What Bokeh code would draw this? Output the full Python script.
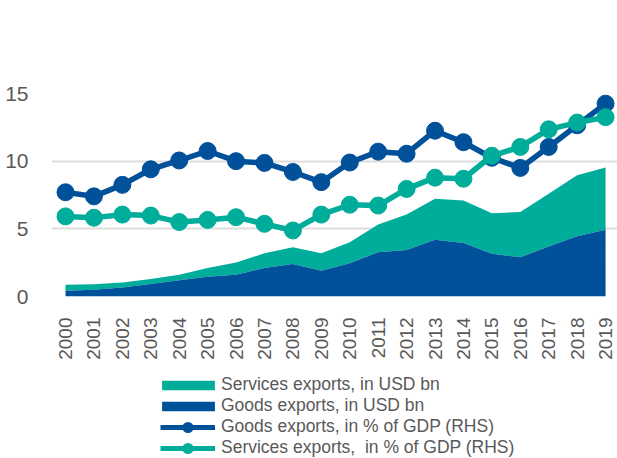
import math
from bokeh.plotting import figure
from bokeh.layouts import column
from bokeh.models import ColumnDataSource, FixedTicker, Legend, LegendItem, Range1d
from bokeh.embed import file_html
from bokeh.resources import INLINE

years = list(range(2000, 2020))
goods_usd = [0.42, 0.5, 0.67, 0.92, 1.2, 1.46, 1.61, 2.1, 2.4, 1.9,
             2.45, 3.27, 3.44, 4.19, 3.96, 3.15, 2.9, 3.69, 4.45, 4.93]
total_usd = [0.87, 0.9, 1.04, 1.29, 1.61, 2.1, 2.52, 3.19, 3.64, 3.19,
             4.01, 5.32, 6.06, 7.23, 7.1, 6.16, 6.24, 7.6, 8.96, 9.53]
services_usd = [round(t - g, 2) for t, g in zip(total_usd, goods_usd)]
goods_pct = [7.7, 7.4, 8.25, 9.4, 10.05, 10.75, 10.0, 9.87, 9.2, 8.45,
             9.9, 10.7, 10.55, 12.25, 11.4, 10.25, 9.5, 11.05, 12.65, 14.25]
services_pct = [5.92, 5.82, 6.05, 5.98, 5.5, 5.66, 5.86, 5.37, 4.88, 6.05,
                6.78, 6.72, 7.95, 8.78, 8.7, 10.4, 11.05, 12.35, 12.85, 13.25]
y_ticks = [0, 5, 10, 15]
legend_labels = ["Services exports, in USD bn", "Goods exports, in USD bn",
                 "Goods exports, in % of GDP (RHS)",
                 "Services exports,  in % of GDP (RHS)"]

DARK = "#00509a"
TEAL = "#00ad9a"
GRAY = "#595959"

src = ColumnDataSource(dict(year=years, goods=goods_usd, total=total_usd,
                            zero=[0] * len(years), gp=goods_pct, sp=services_pct))

p = figure(width=617, height=366, output_backend="svg", toolbar_location=None,
           x_range=Range1d(1999.507, 2019.42), y_range=Range1d(0, 15),
           min_border_left=51, min_border_right=0, min_border_top=93,
           min_border_bottom=70)
p.extra_y_ranges = {"rhs": Range1d(0, 15)}
p.outline_line_color = None

p.xgrid.grid_line_color = None
p.ygrid.grid_line_color = "#dedede"
p.ygrid.grid_line_width = 2
p.ygrid.ticker = FixedTicker(ticks=y_ticks)

p.yaxis.ticker = FixedTicker(ticks=y_ticks)
p.yaxis.axis_line_color = None
p.yaxis.major_tick_line_color = None
p.yaxis.minor_tick_line_color = None
p.yaxis.major_label_text_font = "Liberation Sans"
p.yaxis.major_label_text_font_size = "21px"
p.yaxis.major_label_text_color = GRAY
p.yaxis.major_label_standoff = 17

p.xaxis.ticker = FixedTicker(ticks=years)
p.xaxis.axis_line_color = None
p.xaxis.major_tick_line_color = None
p.xaxis.minor_tick_line_color = None
p.xaxis.major_label_orientation = math.pi / 2
p.xaxis.major_label_text_font = "Liberation Sans"
p.xaxis.major_label_text_font_size = "19px"
p.xaxis.major_label_text_color = GRAY
p.xaxis.major_label_standoff = 15

p.varea(x="year", y1="goods", y2="total", source=src, fill_color=TEAL)
p.varea(x="year", y1="zero", y2="goods", source=src, fill_color=DARK)
p.line(x="year", y="gp", source=src, line_color=DARK, line_width=5.5, y_range_name="rhs")
p.scatter(x="year", y="gp", source=src, size=17, fill_color=DARK, line_color=DARK,
          y_range_name="rhs")
p.line(x="year", y="sp", source=src, line_color=TEAL, line_width=5.5, y_range_name="rhs")
p.scatter(x="year", y="sp", source=src, size=17, fill_color=TEAL, line_color=TEAL,
          y_range_name="rhs")

# legend panel (its swatch renderers sit outside the visible range)
q = figure(width=617, height=92, output_backend="svg", toolbar_location=None,
           x_axis_type=None, y_axis_type=None, x_range=Range1d(0, 1), y_range=Range1d(0, 1),
           min_border_left=0, min_border_right=0, min_border_top=0, min_border_bottom=0)
q.outline_line_color = None
q.xgrid.grid_line_color = None
q.ygrid.grid_line_color = None
off = [-10, -9]
r1 = q.varea(x=off, y1=off, y2=off, fill_color=TEAL)
r2 = q.varea(x=off, y1=off, y2=off, fill_color=DARK)
r3l = q.line(x=off, y=off, line_color=DARK, line_width=5)
r3c = q.scatter(x=off, y=off, size=13, fill_color=DARK, line_color=DARK, line_width=4)
r4l = q.line(x=off, y=off, line_color=TEAL, line_width=5)
r4c = q.scatter(x=off, y=off, size=13, fill_color=TEAL, line_color=TEAL, line_width=4)


def style(lg, gw, gh, standoff):
    lg.padding = 0
    lg.margin = 0
    lg.spacing = 0
    lg.border_line_color = None
    lg.background_fill_alpha = 0
    lg.glyph_width = gw
    lg.glyph_height = gh
    lg.label_standoff = standoff
    lg.label_text_font = "Liberation Sans"
    lg.label_text_font_size = "17.5px"
    lg.label_text_line_height = 1.0
    lg.label_text_color = GRAY
    lg.label_height = 9


leg_a = Legend(items=[
    LegendItem(label=legend_labels[0], renderers=[r1]),
    LegendItem(label=legend_labels[1], renderers=[r2]),
], location=(104, 42), orientation="vertical")
style(leg_a, 66, 12, 0)
leg_b = Legend(items=[
    LegendItem(label=legend_labels[2], renderers=[r3l, r3c]),
    LegendItem(label=legend_labels[3], renderers=[r4l, r4c]),
], location=(109, 0), orientation="vertical")
style(leg_b, 55, 18, 6)
q.add_layout(leg_a, "center")
q.add_layout(leg_b, "center")

open("out.html", "w").write(file_html(column(p, q, spacing=0), INLINE))
